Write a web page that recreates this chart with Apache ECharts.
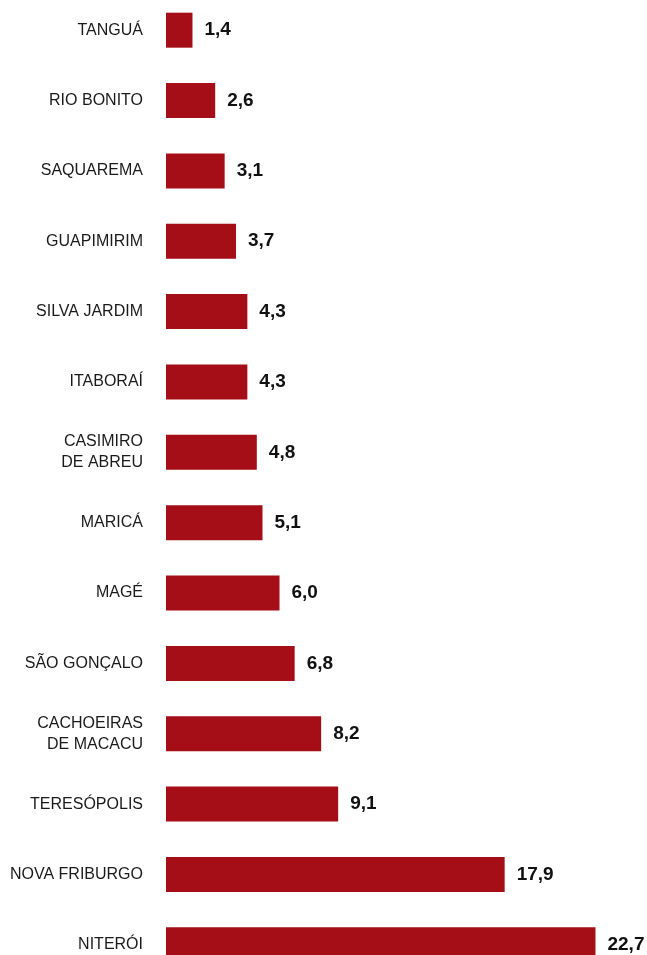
<!DOCTYPE html>
<html>
<head>
<meta charset="utf-8">
<script src="https://cdn.jsdelivr.net/npm/echarts@6/dist/echarts.min.js"></script>
<style>
  html, body { margin: 0; padding: 0; background: #fff; overflow: hidden; }
  body { width: 647px; height: 955px; position: relative; }
  /* a grade começa um pouco acima da janela, como no original */
  #chart { position: absolute; left: 0; top: -5px; width: 647px; height: 990px; }
</style>
</head>
<body>
<div id="chart"></div>
<script>
// municípios, de cima para baixo
const cities = [
  "TANGUÁ", "RIO BONITO", "SAQUAREMA", "GUAPIMIRIM", "SILVA JARDIM",
  "ITABORAÍ", "CASIMIRO\nDE ABREU", "MARICÁ", "MAGÉ", "SÃO GONÇALO",
  "CACHOEIRAS\nDE MACACU", "TERESÓPOLIS", "NOVA FRIBURGO", "NITERÓI"
];
const values = [1.4, 2.6, 3.1, 3.7, 4.3, 4.3, 4.8, 5.1, 6.0, 6.8, 8.2, 9.1, 17.9, 22.7];

const fontFam = "'Liberation Sans Narrow', 'Arial Narrow', 'Liberation Sans', sans-serif";

let myChart = echarts.init(document.getElementById("chart"));
myChart.setOption({
  animation: false,
  grid: {
    left: 166,
    width: 473,
    top: 0,
    height: 985
  },
  xAxis: {
    type: "value",
    min: 0,
    max: 25,
    show: false
  },
  yAxis: {
    type: "category",
    inverse: true,
    data: cities,
    axisLine: { show: false },
    axisTick: { show: false },
    axisLabel: {
      margin: 23,
      color: "#1a1a1a",
      fontSize: 16,
      fontFamily: fontFam,
      lineHeight: 21,
      align: "right"
    }
  },
  series: [
    {
      type: "bar",
      data: values,
      barWidth: 35,
      itemStyle: { color: "#a50e16" },
      label: {
        show: true,
        position: "right",
        distance: 12,
        color: "#111",
        fontSize: 19,
        fontWeight: "bold",
        fontFamily: fontFam,
        formatter: p => p.value.toFixed(1).replace(".", ",")
      }
    }
  ]
});
</script>
</body>
</html>
